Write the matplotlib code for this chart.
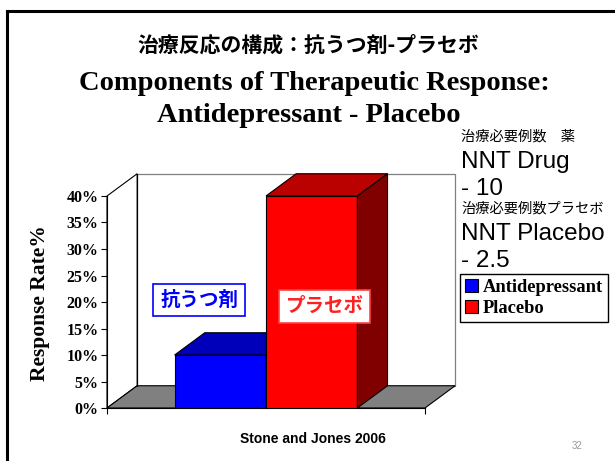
import matplotlib.pyplot as plt
from matplotlib.patches import Polygon
from matplotlib.lines import Line2D

# データ
series = ["Antidepressant", "Placebo"]
rates = [10, 40]
bar_labels = ["抗うつ剤", "プラセボ"]
front_colors = ["#0000ff", "#ff0000"]
top_colors = ["#0000bb", "#bb0000"]
side_colors = ["#000080", "#800000"]
yticks = [0, 5, 10, 15, 20, 25, 30, 35, 40]
nnt_lines = ["治療必要例数　薬", "NNT Drug", "- 10",
             "治療必要例数プラセボ", "NNT Placebo", "- 2.5"]

W, H = 615, 461
fig = plt.figure(figsize=(W / 100, H / 100), dpi=100)
jp = ["Noto Sans CJK JP", "DejaVu Sans"]
serif = "Liberation Serif"
sans = "Liberation Sans"

# 枠線
fig.add_artist(Line2D([7 / W, 7 / W], [0, 1 - 11 / H], color="black", lw=2.2))
fig.add_artist(Line2D([7 / W, 1], [1 - 11 / H, 1 - 11 / H], color="black", lw=2.2))

# タイトル
fig.text(308 / W, 1 - 45 / H, "治療反応の構成：抗うつ剤-プラセボ", ha="center", va="center",
         fontsize=15, weight="bold", family=jp)
fig.text(314 / W, 1 - 83 / H, "Components of Therapeutic Response:", ha="center", va="center",
         fontsize=20.5, weight="bold", family=serif)
fig.text(309 / W, 1 - 115 / H, "Antidepressant - Placebo", ha="center", va="center",
         fontsize=20.5, weight="bold", family=serif)

# 3Dっぽい棒グラフ
ax = fig.add_axes([107 / W, 1 - 408 / H, 318 / W, 212 / H])
x0, x1 = -1.24, 2.24
dx, dy = 0.33, 4.2
ymax = 40
ax.set_xlim(x0, x1)
ax.set_ylim(0, ymax)

ax.add_patch(Polygon([(x0, 0), (x1, 0), (x1 + dx, dy), (x0 + dx, dy)],
                     fc="#808080", ec="black", lw=0.8, clip_on=False, zorder=0.5))
ax.add_patch(Polygon([(x0, 0), (x0 + dx, dy), (x0 + dx, ymax + dy), (x0, ymax)],
                     fc="white", ec="black", lw=0.8, clip_on=False, zorder=0.4))
ax.add_patch(Polygon([(x0 + dx, dy), (x1 + dx, dy), (x1 + dx, ymax + dy), (x0 + dx, ymax + dy)],
                     fc="white", ec="#808080", lw=0.9, clip_on=False, zorder=0.3))
ax.plot([x0 + dx, x0 + dx], [dy, ymax + dy], color="black", lw=0.8, clip_on=False, zorder=0.6)

handles = []
for i, v in enumerate(rates):
    b = ax.bar(i, v, width=1, color=front_colors[i], edgecolor="black", lw=0.8,
               zorder=2 + i, label=series[i])
    handles.append(b)
    ax.add_patch(Polygon([(i - .5, v), (i + .5, v), (i + .5 + dx, v + dy), (i - .5 + dx, v + dy)],
                         fc=top_colors[i], ec="black", lw=0.8, clip_on=False, zorder=2 + i))
    ax.add_patch(Polygon([(i + .5, 0), (i + .5 + dx, dy), (i + .5 + dx, v + dy), (i + .5, v)],
                         fc=side_colors[i], ec="black", lw=0.8, clip_on=False, zorder=2 + i))

ax.text(-0.23, 20.4, bar_labels[0], ha="center", va="center", color="#0000ff",
        fontsize=14, weight="bold", family=jp, zorder=5,
        bbox=dict(boxstyle="square,pad=0.35", fc="white", ec="#0000ff", lw=1.2))
ax.text(1.14, 19.2, bar_labels[1], ha="center", va="center", color="#ff2020",
        fontsize=14, weight="bold", family=jp, zorder=5,
        bbox=dict(boxstyle="square,pad=0.35", fc="white", ec="#ff4040", lw=1.2))

for s in ["top", "right"]:
    ax.spines[s].set_visible(False)
ax.spines["left"].set_linewidth(0.8)
ax.spines["bottom"].set_linewidth(0.8)
ax.set_yticks(yticks)
ax.set_yticklabels([f"{t}%" for t in yticks], fontsize=11.5, weight="bold", family=serif)
ax.set_xticks([x0, x1])
ax.set_xticklabels([])
ax.tick_params(direction="out", length=4, width=0.8, pad=2)
ax.patch.set_visible(False)

fig.text(40 / W, 1 - 303 / H, "Response Rate%", rotation=90, ha="center", va="center",
         fontsize=15.5, weight="bold", family=serif)

# NNT 注記
ys = [136, 162, 189, 208, 234, 261]
for t, y in zip(nnt_lines, ys):
    if t.startswith("治療"):
        fig.text(461 / W, 1 - y / H, t, ha="left", va="center", fontsize=10.3, family=jp)
    else:
        fig.text(461 / W, 1 - y / H, t, ha="left", va="center", fontsize=17.5, family=sans)

fig.legend(handles, series, loc="upper left", bbox_to_anchor=(460 / W, 1 - 274 / H),
           prop=dict(family=serif, weight="bold", size=13.3), frameon=True, fancybox=False,
           edgecolor="black", framealpha=1, handlelength=0.7, handleheight=0.7,
           handletextpad=0.3, borderpad=0.25, labelspacing=0.25, borderaxespad=0)

fig.text(313 / W, 1 - 439 / H, "Stone and Jones 2006", ha="center", va="center",
         fontsize=10, weight="bold", family=sans)
fig.text(577 / W, 1 - 446 / H, "32", ha="center", va="center", fontsize=7, color="#999999",
         family=sans)

fig.savefig("out.png", dpi=100)
